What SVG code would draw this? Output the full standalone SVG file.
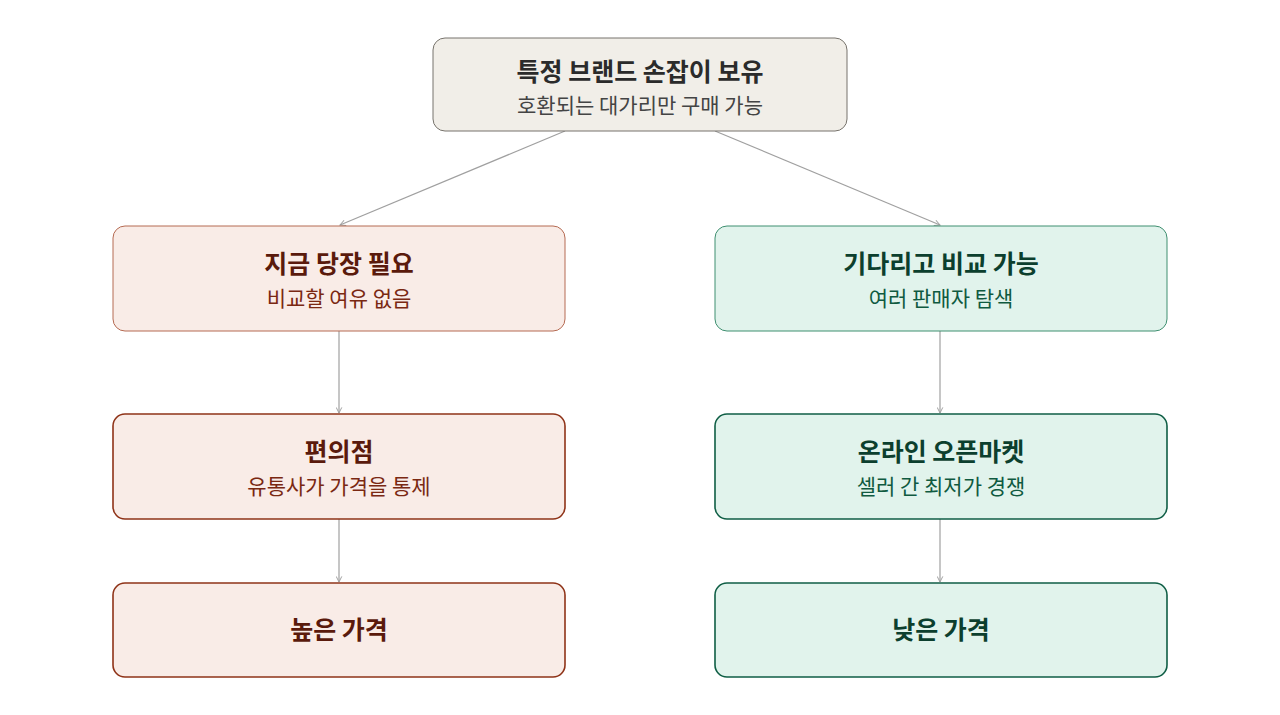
<svg xmlns="http://www.w3.org/2000/svg" width="1280" height="715" viewBox="0 0 1280 715">
<defs>
<marker id="arr" viewBox="0 0 10 10" refX="9" refY="5" markerWidth="7" markerHeight="7" orient="auto" markerUnits="userSpaceOnUse">
<path d="M1,1 L9,5 L1,9" fill="none" stroke="#a0a0a0" stroke-width="1.4"/>
</marker>
<style>
text{font-family:"Noto Sans CJK KR","Noto Sans",sans-serif;text-anchor:middle}
.t{font-size:25px;font-weight:700}
.s{font-size:21px;font-weight:400}
.top rect{fill:#f1eee8;stroke:#77736c;stroke-width:1}
.top .t{fill:#2b2b2b}.top .s{fill:#444}
.red rect{fill:#f9ece7;stroke:#8f3318;stroke-width:1.6}
.red rect.l{stroke:#b56a52;stroke-width:1}
.red .t{fill:#5a1a0c}.red .s{fill:#7a2812}
.grn rect{fill:#e1f3ec;stroke:#0f5e45;stroke-width:1.6}
.grn rect.l{stroke:#3f8f70;stroke-width:1}
.grn .t{fill:#0c3f2e}.grn .s{fill:#0f5a40}
.c line{stroke:#a0a0a0;stroke-width:1.2;marker-end:url(#arr)}
</style>
</defs>
<rect width="1280" height="715" fill="#fff"/>
<g class="c" id="connectors">
<line x1="565" y1="131" x2="340" y2="225"/>
<line x1="715" y1="131" x2="940" y2="225"/>
<line x1="339" y1="331" x2="339" y2="413"/>
<line x1="339" y1="519" x2="339" y2="582"/>
<line x1="940" y1="331" x2="940" y2="413"/>
<line x1="940" y1="519" x2="940" y2="582"/>
</g>
<g id="top" class="top">
<rect x="433" y="38" width="414" height="93" rx="12"/>
<text class="t" x="640" y="81">특정 브랜드 손잡이 보유</text>
<text class="s" x="640" y="113">호환되는 대가리만 구매 가능</text>
</g>
<g id="l1" class="red">
<rect class="l" x="113" y="226" width="452" height="105" rx="12"/>
<text class="t" x="339" y="273">지금 당장 필요</text>
<text class="s" x="339" y="306">비교할 여유 없음</text>
</g>
<g id="l2" class="red">
<rect x="113" y="414" width="452" height="105" rx="12"/>
<text class="t" x="339" y="461">편의점</text>
<text class="s" x="339" y="494">유통사가 가격을 통제</text>
</g>
<g id="l3" class="red">
<rect x="113" y="583" width="452" height="94" rx="12"/>
<text class="t" x="339" y="639">높은 가격</text>
</g>
<g id="r1" class="grn">
<rect class="l" x="715" y="226" width="452" height="105" rx="12"/>
<text class="t" x="941" y="273">기다리고 비교 가능</text>
<text class="s" x="941" y="306">여러 판매자 탐색</text>
</g>
<g id="r2" class="grn">
<rect x="715" y="414" width="452" height="105" rx="12"/>
<text class="t" x="941" y="461">온라인 오픈마켓</text>
<text class="s" x="941" y="494">셀러 간 최저가 경쟁</text>
</g>
<g id="r3" class="grn">
<rect x="715" y="583" width="452" height="94" rx="12"/>
<text class="t" x="941" y="639">낮은 가격</text>
</g>
</svg>
